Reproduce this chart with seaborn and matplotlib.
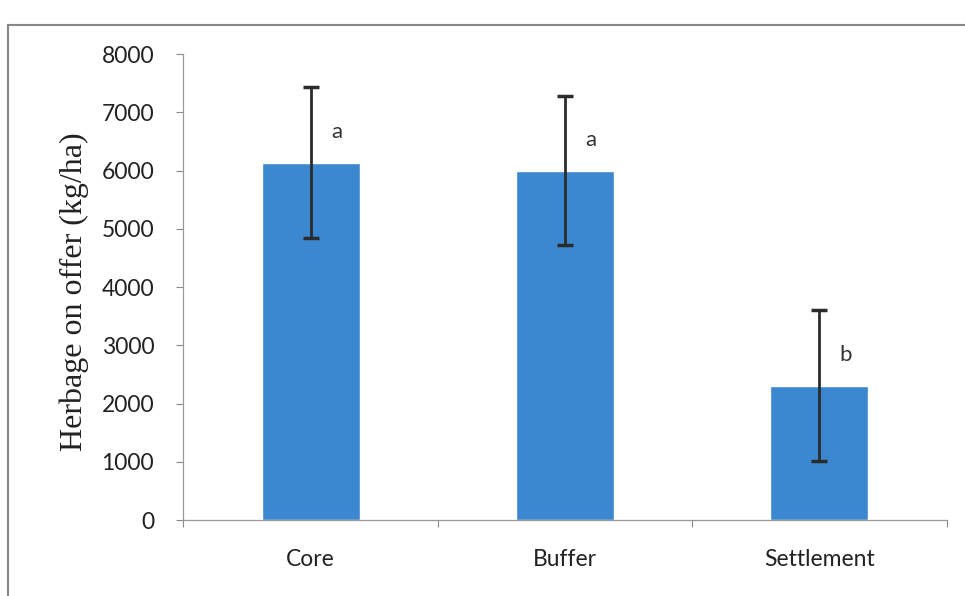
import numpy as np
import pandas as pd
import matplotlib.pyplot as plt
import seaborn as sns
from matplotlib.patches import Rectangle

# data
sites = ["Core", "Buffer", "Settlement"]
herbage = [6140, 6000, 2310]
sd = [1290, 1280, 1290]
letters = ["a", "a", "b"]

df = pd.DataFrame({"site": sites, "herbage": herbage, "sd": sd})

sns.set_theme(style="white")
plt.rcParams['font.family'] = ['Lato', 'DejaVu Sans']

fig = plt.figure(figsize=(9.65, 5.96), dpi=100)
ax = fig.add_axes([0.19, 0.1275, 0.791, 0.7815])

sns.barplot(data=df, x="site", y="herbage", color="#3b88d0", saturation=1,
            width=0.385, errorbar=None, ax=ax)
ax.errorbar(x=np.arange(len(sites)), y=df["herbage"], yerr=df["sd"], fmt="none",
            ecolor="#2b2b2b", elinewidth=2, capsize=6, capthick=2.5)

for i, (v, s, l) in enumerate(zip(herbage, sd, letters)):
    ax.text(i + 0.08, v + 350, l, fontsize=16, color="#333333", ha="left", va="bottom")

ax.set_xlim(-0.5, 2.5)
ax.set_ylim(0, 8000)
ax.set_yticks(range(0, 8001, 1000))
ax.set_xlabel("")
ax.set_ylabel("Herbage on offer (kg/ha)", family="Liberation Serif", size=23, color="#222222")
ax.yaxis.set_label_coords(-0.123, 0.49)
ax.tick_params(axis='y', which='major', length=5, width=0.8, color="#888888",
               labelsize=16.5, labelcolor="#222222", left=True, pad=16)
ax.tick_params(axis='x', which='major', length=0, labelsize=16.5, labelcolor="#222222", pad=21)
ax.set_xticks([-0.5, 0.5, 1.5, 2.5], minor=True)
ax.tick_params(axis='x', which='minor', length=5, width=0.8, color="#888888", bottom=True)

for side in ['top', 'right']:
    ax.spines[side].set_visible(False)
for side in ['left', 'bottom']:
    ax.spines[side].set_color("#999999")
    ax.spines[side].set_linewidth(0.9)

# outer chart frame
fig.patches.append(Rectangle((0.008, -0.01), 1.2, 0.968, transform=fig.transFigure,
                             fill=False, edgecolor="#888888", linewidth=1.5))

plt.savefig("out.png", dpi=100)
